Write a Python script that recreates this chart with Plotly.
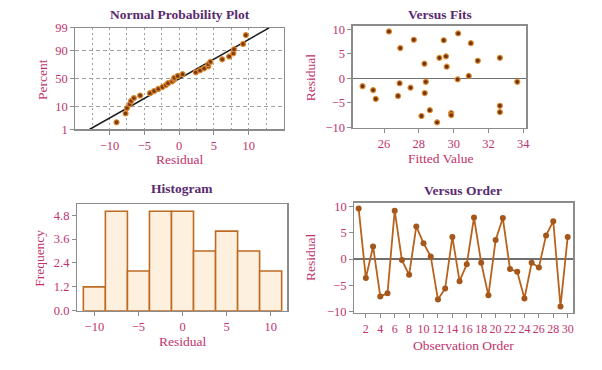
import plotly.graph_objects as go
from statistics import NormalDist, mean, stdev

# ---------------- data ----------------
observation = list(range(1, 31))
residual = [9.6, -3.6, 2.4, -7.1, -6.5, 9.2, -0.2, -3.0, 6.2, 3.0,
            0.5, -7.7, -5.6, 4.2, -4.2, -1.0, 7.9, -0.7, -6.9, 3.6,
            7.8, -1.9, -2.4, -7.5, -0.7, -1.6, 4.5, 7.2, -9.0, 4.2]
fitted = [26.28, 26.80, 29.60, 29.86, 28.63, 30.26, 30.23, 28.34, 26.93, 28.32,
          30.87, 28.15, 32.66, 32.66, 25.52, 26.89, 27.71, 33.66, 32.66, 31.39,
          29.43, 27.52, 25.37, 29.86, 28.40, 24.76, 29.56, 30.99, 29.05, 29.18]
hist_bin_centers = [-10, -7.5, -5, -2.5, 0, 2.5, 5, 7.5, 10]
hist_freq = [1.2, 5, 2, 5, 5, 3, 4, 3, 2]
pct_ticks = [1, 10, 50, 90, 99]

# ---------------- styles ----------------
FONT = "Liberation Serif"
LBL = "#C0336B"
TTL = "#5A2A6E"
FRAME = "#8C8C8C"
ORANGE = "#B8621C"
GRID = "#A0A0A0"
W, H = 602, 370

def px(x):
    return x / W

def py(y):
    return 1 - y / H

nd = NormalDist()
n = len(residual)
sorted_res = sorted(residual)
npp_z = [nd.inv_cdf((i + 1 - 0.3) / (n + 0.4)) for i in range(n)]
fit = NormalDist(mean(residual), stdev(residual))
z_lo, z_hi = nd.inv_cdf(0.01), nd.inv_cdf(0.99)

fig = go.Figure()

# Normal probability plot
fig.add_trace(go.Scatter(x=[fit.mean + fit.stdev * z_lo, fit.mean + fit.stdev * z_hi],
                         y=[z_lo, z_hi], mode="lines",
                         line=dict(color="#1E1E1E", width=1.6),
                         xaxis="x", yaxis="y", showlegend=False, hoverinfo="skip"))
fig.add_trace(go.Scatter(x=sorted_res, y=npp_z, mode="markers",
                         marker=dict(size=5, color="#7A3C12",
                                     line=dict(color="#E08A30", width=1.2)),
                         xaxis="x", yaxis="y", showlegend=False))

# Versus fits
fig.add_trace(go.Scatter(x=fitted, y=residual, mode="markers",
                         marker=dict(size=5, color="#6A3410",
                                     line=dict(color="#E08A30", width=1.2)),
                         xaxis="x2", yaxis="y2", showlegend=False))

# Histogram
fig.add_trace(go.Bar(x=hist_bin_centers, y=hist_freq, width=2.5,
                     marker=dict(color="#FDF0DE", line=dict(color="#BF6A22", width=1.6)),
                     xaxis="x3", yaxis="y3", showlegend=False))

# Versus order
fig.add_trace(go.Scatter(x=observation, y=residual, mode="lines+markers",
                         line=dict(color=ORANGE, width=1.8),
                         marker=dict(size=6, color="#A5561A"),
                         xaxis="x4", yaxis="y4", showlegend=False))

tickfont = dict(family=FONT, size=12.5, color=LBL)
base = dict(showline=True, mirror=True, linecolor=FRAME, linewidth=1.2,
            ticks="outside", ticklen=4, tickcolor=FRAME, tickfont=tickfont,
            zeroline=False, showgrid=False, fixedrange=True, tickangle=0)

fig.update_layout(
    width=W, height=H, margin=dict(l=0, r=0, t=0, b=0),
    paper_bgcolor="white", plot_bgcolor="white",
    bargap=0,
    xaxis=dict(base, domain=[px(76), px(286)], anchor="y", range=[-14.9, 15.1],
               tickmode="array", tickvals=[-10, -5, 0, 5, 10],
               showgrid=True, gridcolor=GRID, griddash="2px,3px", gridwidth=1,
               minor=dict(tickmode="linear", tick0=-12.5, dtick=2.5, showgrid=True,
                          gridcolor=GRID, griddash="2px,3px", gridwidth=1, ticks="")),
    yaxis=dict(base, domain=[py(127.3), py(21.7)], anchor="x", range=[z_lo, z_hi],
               tickmode="array", tickvals=[nd.inv_cdf(p / 100) for p in pct_ticks],
               ticktext=[str(p) for p in pct_ticks],
               showgrid=True, gridcolor=GRID, griddash="4px,3px", gridwidth=1),
    xaxis2=dict(base, domain=[px(355), px(530)], anchor="y2", range=[24.19, 34.19],
                tickmode="linear", tick0=26, dtick=2),
    yaxis2=dict(base, domain=[py(126), py(19.3)], anchor="x2", range=[-10.2, 10.8],
                tickmode="linear", tick0=-10, dtick=5,
                zeroline=True, zerolinecolor="#707070", zerolinewidth=1.2),
    xaxis3=dict(base, domain=[px(77.7), px(289.3)], anchor="y3", range=[-11.95, 11.9],
                tickmode="array", tickvals=[-10, -5, 0, 5, 10]),
    yaxis3=dict(base, domain=[py(315.7), py(205)], anchor="x3", range=[0, 5.35],
                tickmode="linear", tick0=0, dtick=1.2, tickformat=".1f"),
    xaxis4=dict(base, domain=[px(356.7), px(577.3)], anchor="y4", range=[0.4, 30.8],
                tickmode="linear", tick0=2, dtick=2,
                tickfont=dict(family=FONT, size=12, color=LBL)),
    yaxis4=dict(base, domain=[py(318.3), py(203.3)], anchor="x4", range=[-10.3, 10.73],
                tickmode="linear", tick0=-10, dtick=5,
                zeroline=True, zerolinecolor="#707070", zerolinewidth=1.2),
)

def ann(text, x, y, size, color, bold=False, angle=0):
    fig.add_annotation(text=f"<b>{text}</b>" if bold else text,
                       x=px(x), y=py(y), xref="paper", yref="paper",
                       xanchor="center", yanchor="middle", showarrow=False,
                       textangle=angle, font=dict(family=FONT, size=size, color=color))

# panel titles
ann("Normal Probability Plot", 181, 8, 13.5, TTL, bold=True)
ann("Versus Fits", 443, 7.5, 13.5, TTL, bold=True)
ann("Histogram", 183, 188.5, 13.5, TTL, bold=True)
ann("Versus Order", 466, 190.5, 13.5, TTL, bold=True)

# axis titles
ann("Residual", 181, 158.5, 13.5, LBL)
ann("Percent", 42, 75, 13.5, LBL, angle=-90)
ann("Fitted Value", 443, 157, 13.5, LBL)
ann("Residual", 312, 73, 13.5, LBL, angle=-90)
ann("Residual", 184, 347.5, 13.5, LBL)
ann("Frequency", 39, 261, 13.5, LBL, angle=-90)
ann("Observation Order", 467, 352, 13.5, LBL)
ann("Residual", 312, 260, 13.5, LBL, angle=-90)

fig.write_html("out.html",
               config={"displayModeBar": False, "staticPlot": True},
               post_script="document.body.style.margin='0';"
                           "document.body.style.overflow='hidden';")
